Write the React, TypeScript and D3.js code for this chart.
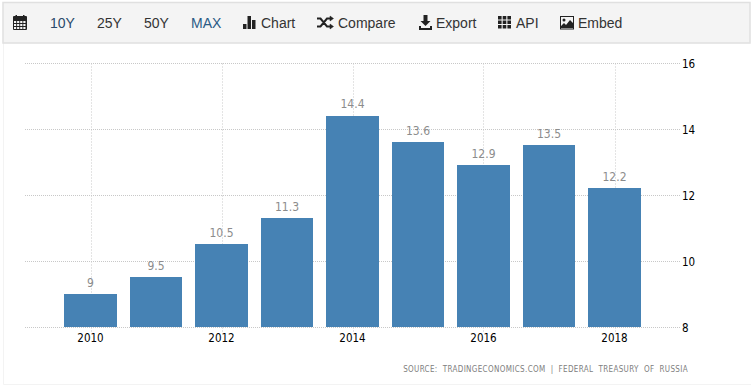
import React from "react";
import * as d3 from "d3";

const years = [2010, 2011, 2012, 2013, 2014, 2015, 2016, 2017, 2018];
const values = [9, 9.5, 10.5, 11.3, 14.4, 13.6, 12.9, 13.5, 12.2];
const valueLabels = ["9", "9.5", "10.5", "11.3", "14.4", "13.6", "12.9", "13.5", "12.2"];
const xTicks = [2010, 2012, 2014, 2016, 2018];
const yTicks = [8, 10, 12, 14, 16];
const menuText = [
  { t: "10Y", x: 50, c: "#2b4a6b" },
  { t: "25Y", x: 97, c: "#333" },
  { t: "50Y", x: 144, c: "#333" },
  { t: "MAX", x: 191, c: "#2b5a85" },
  { t: "Chart", x: 261, c: "#333" },
  { t: "Compare", x: 338, c: "#333" },
  { t: "Export", x: 436, c: "#333" },
  { t: "API", x: 516, c: "#333" },
  { t: "Embed", x: 578, c: "#333" },
];

const x = d3.scaleLinear().domain([2009, 2019]).range([25, 680]);
const y = d3.scaleLinear().domain([8, 16]).range([327, 63]);
const barW = 52.5;
const font = "'Liberation Sans', Arial, sans-serif";
const labelFont = "'DejaVu Sans Condensed', 'DejaVu Sans', Tahoma, sans-serif";

function Icons() {
  const c = "#222";
  const calendar = d3.range(3).flatMap((r) => d3.range(4).map((k) => [k, r]));
  const api = d3.range(3).flatMap((r) => d3.range(3).map((k) => [k, r]));
  return (
    <g fill={c}>
      <g transform="translate(13,15)">
        <rect x={0} y={1} width={14} height={14} rx={1} />
        <rect x={2.5} y={0} width={1.5} height={2} />
        <rect x={10} y={0} width={1.5} height={2} />
        {calendar.map(([k, r], i) => (
          <rect key={i} x={1 + k * 3.1} y={6 + r * 3} width={2.2} height={2} fill="#f5f5f5" />
        ))}
      </g>
      <g transform="translate(243,16)">
        <rect x={0} y={8} width={3.5} height={5} />
        <rect x={4.5} y={0} width={3.5} height={13} />
        <rect x={9} y={4} width={3.5} height={9} />
      </g>
      <g transform="translate(317,16)" stroke={c} strokeWidth={2} fill="none">
        <path d="M0 2.5h3.5L10 10.5h4M0 10.5h3.5L10 2.5h4" />
        <path d="M13 0l3.5 2.5L13 5zM13 8l3.5 2.5L13 13z" fill={c} strokeWidth={0.5} />
      </g>
      <g transform="translate(419,15)">
        <rect x={4.5} y={0} width={4} height={6} />
        <path d="M1.5 6h10l-5 5z" />
        <path d="M0 11h2v2h9v-2h2v4H0z" />
      </g>
      <g transform="translate(498,16)">
        {api.map(([k, r], i) => (
          <rect key={i} x={k * 4.7} y={r * 4.5} width={3.6} height={3.5} />
        ))}
      </g>
      <g transform="translate(560,16)">
        <rect x={0.5} y={0.5} width={13} height={12.5} fill="none" stroke={c} />
        <path d="M1 12V10L4 7l2 2 4-5 3 3v5z" />
        <circle cx={4} cy={4} r={1.5} />
      </g>
    </g>
  );
}

export default function App() {
  return (
    <svg
      width={751}
      height={390}
      style={{ position: "absolute", left: 0, top: 0, background: "#fff" }}
    >
      <path d="M3.5 2V384.5H751" fill="none" stroke="#f3f3f3" strokeWidth={1} />
      <rect x={3} y={2.5} width={747} height={40.5} fill="#f4f4f4" stroke="#e0e0e0" strokeWidth={1.5} />
      <Icons />
      {menuText.map((d) => (
        <text key={d.t} x={d.x} y={28} fontFamily={font} fontSize={14} fill={d.c}>
          {d.t}
        </text>
      ))}
      {yTicks.map((t) => (
        <line key={t} x1={25} x2={680} y1={y(t) + 0.5} y2={y(t) + 0.5} stroke="#c8c8c8" strokeDasharray="1 1" />
      ))}
      {xTicks.map((t) => (
        <line
          key={t}
          x1={Math.round(x(t)) + 0.5}
          x2={Math.round(x(t)) + 0.5}
          y1={63.5}
          y2={333}
          stroke="#c8c8c8"
          strokeDasharray="1 2"
        />
      ))}
      {years.map((yr, i) => {
        const left = Math.round(x(yr) - barW / 2);
        const right = Math.round(x(yr) + barW / 2);
        const top = Math.ceil(y(values[i]) - 0.5);
        return <rect key={yr} x={left} y={top} width={right - left} height={y(8) - top} fill="#4682b4" />;
      })}
      {years.map((yr, i) => (
        <text
          key={yr}
          x={x(yr)}
          y={y(values[i]) - 7.5}
          textAnchor="middle"
          fontFamily={labelFont}
          fontSize={12}
          fill="#8c8c8c"
        >
          {valueLabels[i]}
        </text>
      ))}
      {xTicks.map((t) => (
        <text key={t} x={x(t)} y={342} textAnchor="middle" fontFamily={labelFont} fontSize={11.5} fill="#000">
          {t}
        </text>
      ))}
      {yTicks.map((t) => (
        <text key={t} x={682} y={y(t) + 5} fontFamily={labelFont} fontSize={11.5} fill="#000">
          {t}
        </text>
      ))}
      <text
        x={688}
        y={372}
        textAnchor="end"
        fontFamily={labelFont}
        fontSize={8}
        letterSpacing={0.34}
        wordSpacing={2.5}
        fill="#808080"
      >
        SOURCE: TRADINGECONOMICS.COM | FEDERAL TREASURY OF RUSSIA
      </text>
    </svg>
  );
}
